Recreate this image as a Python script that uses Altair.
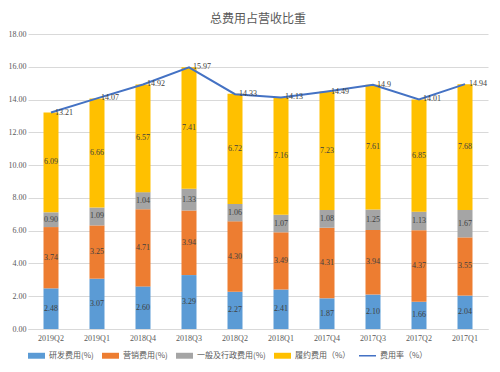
import altair as alt
import pandas as pd

quarters = ["2019Q2", "2019Q1", "2018Q4", "2018Q3", "2018Q2",
            "2018Q1", "2017Q4", "2017Q3", "2017Q2", "2017Q1"]
rd = [2.48, 3.07, 2.60, 3.29, 2.27, 2.41, 1.87, 2.10, 1.66, 2.04]
sales = [3.74, 3.25, 4.71, 3.94, 4.30, 3.49, 4.31, 3.94, 4.37, 3.55]
admin = [0.90, 1.09, 1.04, 1.33, 1.06, 1.07, 1.08, 1.25, 1.13, 1.67]
fulfil = [6.09, 6.66, 6.57, 7.41, 6.72, 7.16, 7.23, 7.61, 6.85, 7.68]
total = [13.21, 14.07, 14.92, 15.97, 14.33, 14.13, 14.49, 14.9, 14.01, 14.94]
series_names = ["研发费用(%)", "营销费用(%)", "一般及行政费用(%)", "履约费用（%）"]
line_name = "费用率（%）"
colors = ["#5B9BD5", "#ED7D31", "#A5A5A5", "#FFC000", "#4472C4"]
y_ticks = [0, 2, 4, 6, 8, 10, 12, 14, 16, 18]

rows = []
for i, q in enumerate(quarters):
    base = 0.0
    for k, (name, vals) in enumerate(zip(series_names, [rd, sales, admin, fulfil])):
        v = vals[i]
        rows.append(dict(q=q, s=name, k=k, v=v, y0=base, y1=base + v,
                         mid=base + v / 2, lab=f"{v:.2f}"))
        base += v
bars_df = pd.DataFrame(rows)
line_df = pd.DataFrame({"q": quarters, "t": total, "lab": [str(t) for t in total]})

x_enc = alt.X("q:N", sort=quarters, title=None,
              scale=alt.Scale(paddingInner=0, paddingOuter=0),
              axis=alt.Axis(labelAngle=0, ticks=False, domainColor="#d9d9d9",
                            labelPadding=5))
y_scale = alt.Scale(domain=[0, 18], nice=False, zero=True)
y_axis = alt.Axis(values=y_ticks, format=".2f", domain=False, ticks=False,
                  gridColor="#d9d9d9", labelPadding=2, labelOverlap=False,
                  tickCount=10)


def yenc(field):
    return alt.Y(field, scale=y_scale, title=None, axis=y_axis)


bars = alt.Chart(bars_df).mark_bar(size=15).encode(
    x=x_enc,
    y=yenc("y0:Q"),
    y2="y1:Q",
    color=alt.Color("s:N",
                    scale=alt.Scale(domain=series_names + [line_name], range=colors),
                    legend=alt.Legend(
                        orient="bottom", title=None, direction="horizontal",
                        symbolType={"expr": "datum.value == '费用率（%）' ? 'M-1,-0.09H1V0.09H-1Z' : 'M-1,-0.35H1V0.35H-1Z'"},
                        symbolSize=289, symbolStrokeWidth=0,
                        labelFont="Noto Sans CJK SC", labelFontSize=8,
                        labelColor="#595959", columnPadding=8, labelOffset=4,
                        offset=5)),
    order=alt.Order("k:Q"),
)

bar_text = alt.Chart(bars_df).mark_text(
    font="Liberation Serif", fontSize=8, color="#404040", baseline="middle"
).encode(x=x_enc, y=yenc("mid:Q"), text="lab:N")

line = alt.Chart(line_df).mark_line(color="#4472C4", strokeWidth=2).encode(
    x=x_enc, y=yenc("t:Q"))

line_text = alt.Chart(line_df).mark_text(
    font="Liberation Serif", fontSize=8, color="#404040", align="left",
    baseline="middle", dx=4
).encode(x=x_enc, y=yenc("t:Q"), text="lab:N")

chart = alt.layer(bars, bar_text, line, line_text).properties(
    width=460, height=295,
    padding={"left": 0, "top": 5, "right": 2, "bottom": 0},
    title=alt.Title("总费用占营收比重", font="Noto Sans CJK SC", fontSize=12,
                    fontWeight="normal", color="#595959", offset=4),
).configure_view(stroke=None).configure_axis(
    labelFont="Liberation Serif", labelFontSize=8, labelColor="#595959"
)

chart.save("out.html", embed_options={"renderer": "svg", "actions": False})
